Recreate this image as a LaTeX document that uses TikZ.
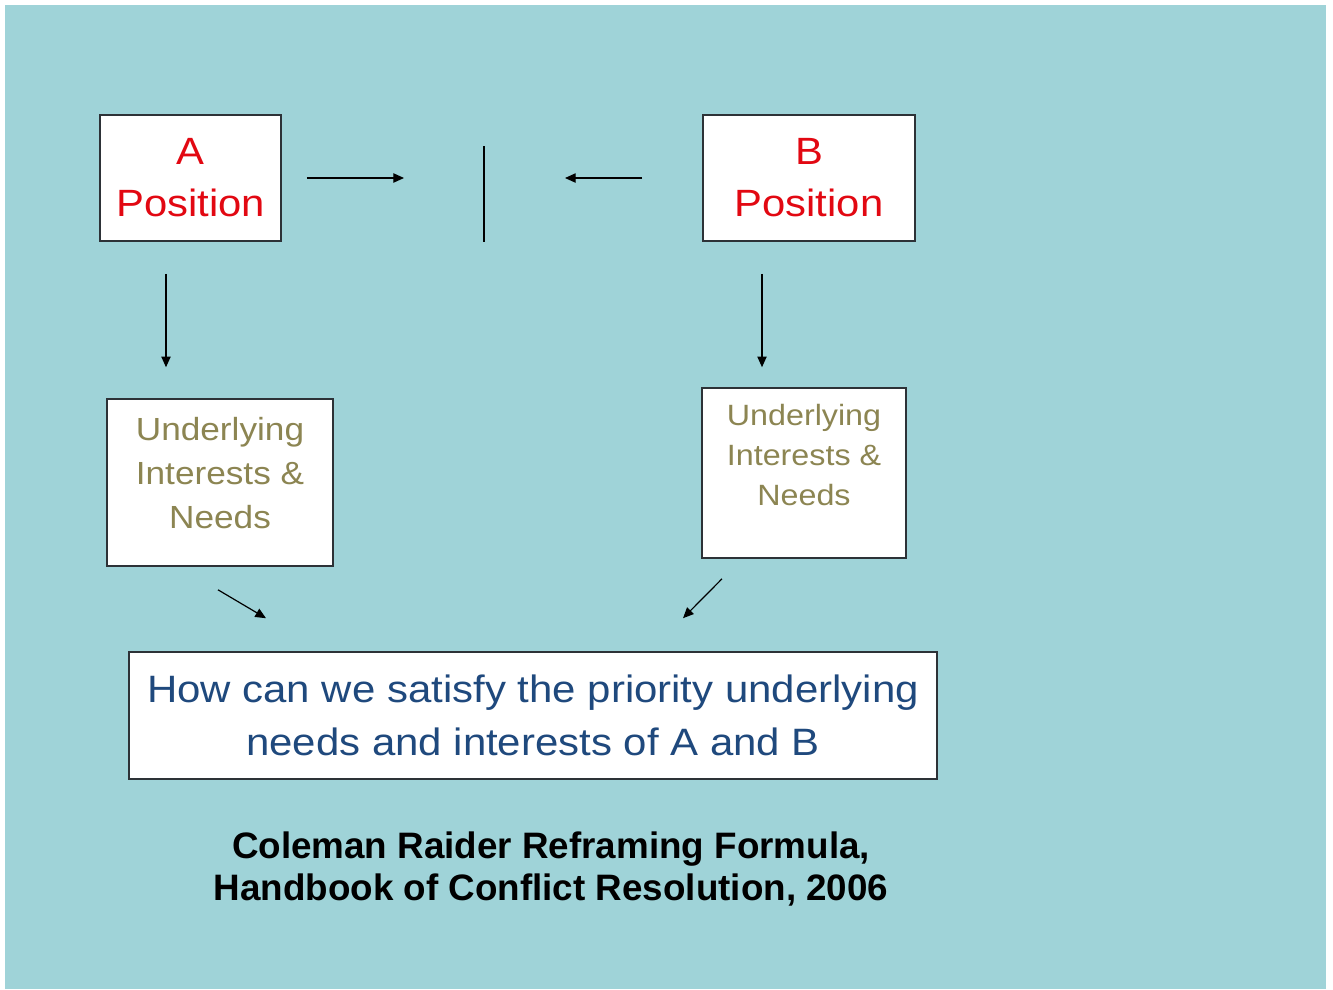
\documentclass[tikz,border=0pt]{standalone}
\usepackage{fontspec}
\usepackage{tikz}
\usetikzlibrary{calc}
\usetikzlibrary{arrows.meta}

\newfontfamily\boxfont[FakeStretch=1.1]{Liberation Sans}
\newfontfamily\capfont{Liberation Sans}

\definecolor{slide}{RGB}{159,211,216}
\definecolor{posred}{RGB}{226,8,18}
\definecolor{needolive}{RGB}{140,133,82}
\definecolor{askblue}{RGB}{31,73,125}
\definecolor{frame}{RGB}{45,50,55}

\begin{document}
\begin{tikzpicture}[x=0.75pt,y=-0.75pt,
  box/.style={draw=frame,line width=1.2pt,fill=white,align=center,inner sep=0pt},
  arr/.style={line width=0.9pt,-{Triangle[length=8pt,width=7pt]}}]

% slide background
\fill[white] (0,0) rectangle (1333,989);
\fill[slide] (5,5) rectangle (1326,989);

% positions
\node (posA) [box, minimum width=181*0.75pt, minimum height=126*0.75pt,
  text=posred, font=\boxfont\fontsize{28.5}{39}\selectfont] at (190.5,178) {A\\Position};
\node (posB) [box, minimum width=212*0.75pt, minimum height=126*0.75pt,
  text=posred, font=\boxfont\fontsize{28.5}{39}\selectfont] at (809,178) {B\\Position};

% needs
\node (needA) [box, minimum width=226*0.75pt, minimum height=167*0.75pt, text depth=15pt,
  text=needolive, font=\boxfont\fontsize{24}{33}\selectfont] at (220,482.5) {Underlying\\Interests \&\\Needs};
\node (needB) [box, minimum width=204*0.75pt, minimum height=170*0.75pt, text depth=27pt,
  text=needolive, font=\boxfont\fontsize{22}{30}\selectfont] at (804,473) {Underlying\\Interests \&\\Needs};

% question
\node (question) [box, minimum width=808*0.75pt, minimum height=127*0.75pt,
  text=askblue, font=\boxfont\fontsize{28.6}{40}\selectfont] at (533,715.5)
  {How can we satisfy the priority underlying\\needs and interests of A and B};

% source
\node (source) [align=center, font=\capfont\bfseries\fontsize{27.6}{31.5}\selectfont] at (551,869)
  {Coleman Raider Reframing Formula,\\Handbook of Conflict Resolution, 2006};

% bar between positions
\coordinate (barTop) at (484,146);
\coordinate (barBot) at (484,242);
\draw[line width=0.9pt] (barTop) -- (barBot);

% arrows
\draw[arr] ($(posA.east)+(25,0)$) -- ($(barTop |- posA.east)+(-80,0)$);
\draw[arr] ($(posB.west)+(-60,0)$) -- ($(barTop |- posB.west)+(81,0)$);
\draw[arr] ($(posA.south)+(-24.5,32)$) -- ($(needA.north)+(-54,-31)$);
\draw[arr] ($(posB.south)+(-47,32)$) -- ($(needB.north)+(-42,-20)$);
\draw[arr] ($(needA.south)+(-2,23)$) -- ($(question.north)+(-267,-33)$);
\draw[arr] ($(needB.south)+(-82,20)$) -- ($(question.north)+(150,-33)$);

\end{tikzpicture}
\end{document}
